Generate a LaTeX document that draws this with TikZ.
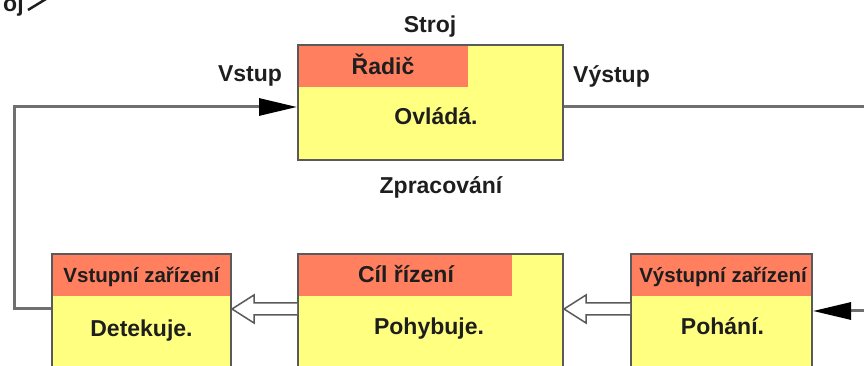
\documentclass[tikz,border=0pt]{standalone}
\usepackage{fontspec}
\setmainfont{Liberation Sans}
\usetikzlibrary{calc, positioning, arrows.meta}
\definecolor{xsalmon}{HTML}{FF7F5F}
\definecolor{xyellow}{HTML}{FFFF80}
\definecolor{xframe}{HTML}{5A5A5A}
\definecolor{xwire}{HTML}{707070}
\definecolor{xink}{HTML}{1E1E1E}
\tikzset{
  unit/.style = {draw=xframe, line width=2pt, fill=xyellow, inner sep=0pt,
    path picture={\fill[xsalmon] (path picture bounding box.north west) rectangle ++(#1,-42pt);}},
  lbl/.style = {font=\bfseries\fontsize{23}{26}\selectfont, text=xink, inner sep=0pt, anchor=base},
  hlbl/.style = {lbl, font=\bfseries\fontsize{20.5}{24}\selectfont},
  wire/.style = {draw=xwire, line width=3pt},
  signal/.style = {wire, line join=miter, -{Triangle[length=38pt, width=17pt, color=black]}},
  fat/.style = {draw=xframe, line width=1.5pt, fill=white, line join=miter},
}
% open double-line arrow, from #1 back to the tip at #2
\newcommand\hollowarrow[2]{%
  \draw[fat] ($(#1)+(0,6)$) -- ($(#2)+(22,6)$) -- ($(#2)+(22,14)$) -- (#2)
    -- ($(#2)+(22,-14)$) -- ($(#2)+(22,-6)$) -- ($(#1)+(0,-6)$);}

\begin{document}
\begin{tikzpicture}[x=1pt, y=1pt]
  \path[use as bounding box, clip] (0,0) rectangle (864,366);

  \node[lbl, anchor=base west] (t-oj) at (3,354) {oj};
  \draw[xink, line width=2.5pt] (28,356) -- (46,367);

  % the machine
  \node[unit=170pt, minimum width=265pt, minimum height=115pt] (stroj) at (430.5,263.5) {};
  \node[lbl] (t-stroj) at (430,333) {Stroj};
  \node[lbl] (t-ridic) at (383,291) {Řadič};
  \node[lbl] (t-ovlada) at (436,241) {Ovládá.};
  \node[lbl] (t-zprac) at (441,172) {Zpracování};
  \node[lbl] (t-vstup) at (250,284) {Vstup};
  \node[lbl] (t-vystup) at (611.5,283) {Výstup};

  % devices along the bottom
  \node[unit=179pt, minimum width=179pt, minimum height=140pt] (vstupz) at (141.5,42) {};
  \node[unit=214pt, minimum width=265pt, minimum height=140pt] (cil) at (430.5,42) {};
  \node[unit=181pt, minimum width=181pt, minimum height=140pt] (vystupz) at (721.5,42) {};
  \node[hlbl] (t-vz) at (141.5,83) {Vstupní zařízení};
  \node[lbl] (t-det) at (141.5,29) {Detekuje.};
  \node[lbl] (t-cr) at (406,83) {Cíl řízení};
  \node[lbl] (t-poh) at (429,31) {Pohybuje.};
  \node[hlbl] (t-vyz) at (723,83) {Výstupní zařízení};
  \node[lbl] (t-pohani) at (722.5,31) {Pohání.};

  \coordinate (fb) at (14,57);
  \coordinate (fbtop) at (14,259);
  \coordinate (out) at (864,259);
  \coordinate (in) at (864,55);

  \draw[signal] (vstupz.west |- fb) -- (fb) -- (fbtop) -- (stroj.west |- fbtop);
  \draw[wire] (stroj.east |- out) -- (out);
  \draw[signal] (in) -- (vystupz.east |- in);

  \hollowarrow{cil.west |- 0,57}{vstupz.east |- 0,57}
  \hollowarrow{vystupz.west |- 0,57}{cil.east |- 0,57}
\end{tikzpicture}
\end{document}
